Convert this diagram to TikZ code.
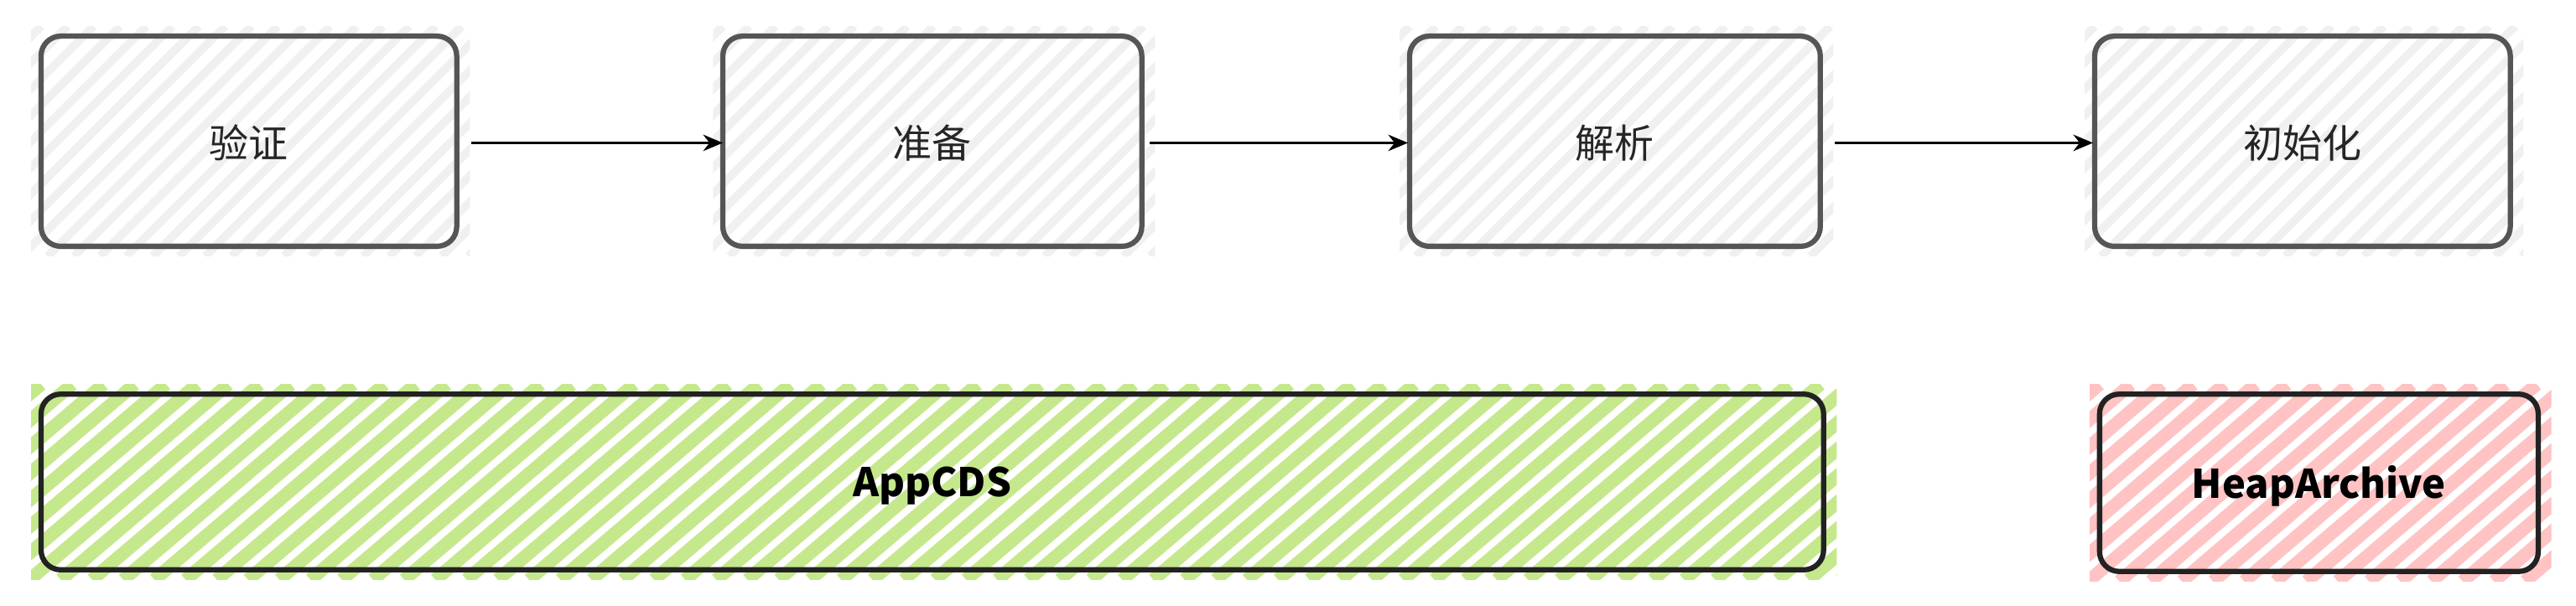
\documentclass[tikz,border=0pt]{standalone}
\usepackage{fontspec}
\setmainfont{Noto Sans CJK SC}
\usetikzlibrary{arrows.meta}
\definecolor{grayfill}{HTML}{F0F0F0}
\definecolor{greenfill}{HTML}{C5E88C}
\definecolor{pinkfill}{HTML}{FFC3C3}
\definecolor{grayline}{HTML}{555555}
\definecolor{darkline}{HTML}{222222}
\newcommand{\hachbox}[8]{% name, x1,y1,x2,y2, fill, line, step
  \begin{scope}
    \clip (#2-6,#3-6) rectangle (#4+8,#5+6);
    \foreach \k in {0,#8,...,1400} {
      \draw[#6, line width=#7] (#2-140+\k,#5+6) -- (#2+\k,#3-6);
    }
  \end{scope}
}
\begin{document}
\begin{tikzpicture}[x=1pt,y=-1pt,
  box/.style={draw=grayline, line width=3.2pt, rounded corners=12pt, inner sep=0pt},
  bbox/.style={draw=darkline, line width=3.2pt, rounded corners=12pt, inner sep=0pt},
  lbl/.style={font=\fontsize{24}{28}\selectfont, text=black!85},
  elbl/.style={font=\bfseries\fontsize{24}{28}\selectfont, text=black},
  arr/.style={-{Stealth[length=12pt,width=10pt]}, line width=1.5pt}]
\useasboundingbox[fill=white] (0,0) rectangle (1568,369);
\hachbox{a}{25}{22}{278}{150}{grayfill}{5pt}{16}
\hachbox{b}{440}{22}{695}{150}{grayfill}{5pt}{16}
\hachbox{c}{858}{22}{1108}{150}{grayfill}{5pt}{16}
\hachbox{d}{1275}{22}{1528}{150}{grayfill}{5pt}{16}
\hachbox{e}{25}{240}{1110}{347}{greenfill}{8pt}{19}
\hachbox{f}{1278}{240}{1545}{348}{pinkfill}{8pt}{19}
\draw[box] (25,22) rectangle (278,150);
\draw[box] (440,22) rectangle (695,150);
\draw[box] (858,22) rectangle (1108,150);
\draw[box] (1275,22) rectangle (1528,150);
\draw[bbox] (25,240) rectangle (1110,347);
\draw[bbox] (1278,240) rectangle (1545,348);
\node[lbl] (a) at (151.5,87) {验证};
\node[lbl] (b) at (567.5,87) {准备};
\node[lbl] (c) at (983,87) {解析};
\node[lbl] (d) at (1401.5,87) {初始化};
\node[elbl] (e) at (567.5,296) {AppCDS};
\node[elbl] (f) at (1411.5,296) {HeapArchive};
\coordinate (a1) at (287,87); \coordinate (b0) at (440,87);
\coordinate (b1) at (700,87); \coordinate (c0) at (857,87);
\coordinate (c1) at (1117,87); \coordinate (d0) at (1274,87);
\draw[arr] (a1) -- (b0);
\draw[arr] (b1) -- (c0);
\draw[arr] (c1) -- (d0);
\end{tikzpicture}
\end{document}
